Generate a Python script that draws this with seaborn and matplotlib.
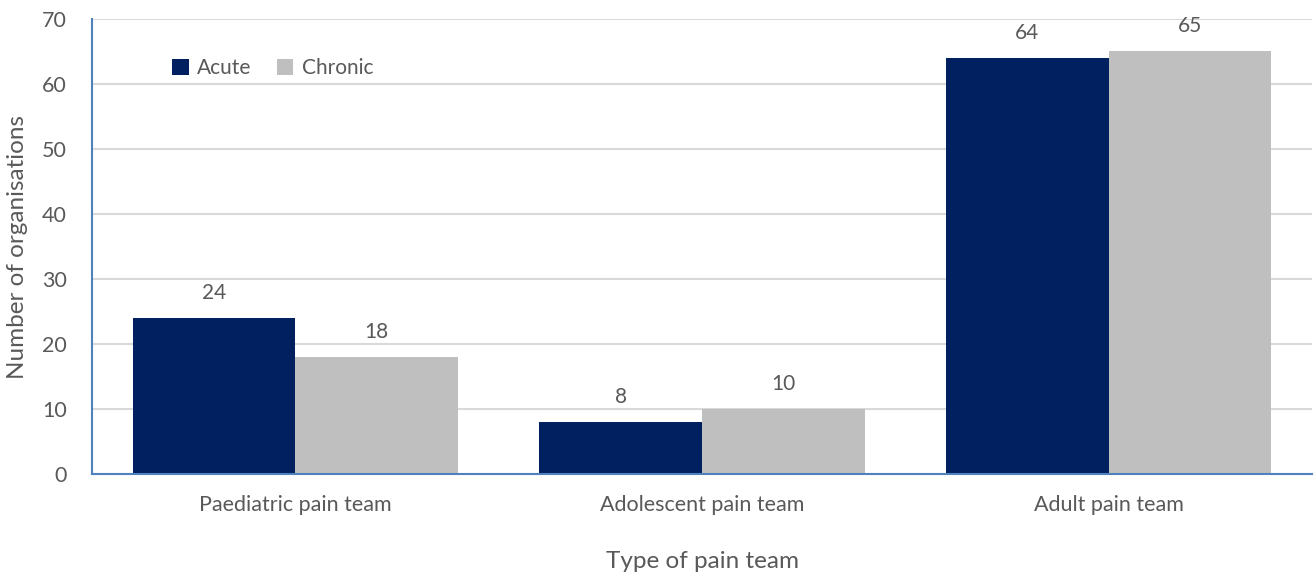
import pandas as pd
import numpy as np
import seaborn as sns
import matplotlib.pyplot as plt

sns.set_style('white')
plt.rcParams['font.family'] = ['Lato', 'DejaVu Sans']

# data
teams = ['Paediatric pain team', 'Adolescent pain team', 'Adult pain team']
acute = [24, 8, 64]
chronic = [18, 10, 65]

data = pd.DataFrame({
    'team': teams * 2,
    'type': ['Acute'] * 3 + ['Chronic'] * 3,
    'count': acute + chronic,
})

text_col = '#595959'
fig = plt.figure(figsize=(13.15, 5.72), dpi=100)
ax = fig.add_axes([0.070, 0.1713, 0.9277, 0.7955])

sns.barplot(data=data, x='team', y='count', hue='type',
            palette={'Acute': '#002060', 'Chronic': '#BFBFBF'},
            width=0.8, saturation=1, linewidth=0, ax=ax)

for c in ax.containers:
    ax.bar_label(c, padding=11, fontsize=15, color=text_col)

ax.set_ylim(0, 70)
ax.set_yticks(range(0, 71, 10))
ax.set_xlim(-0.5, 2.5)
ax.grid(axis='y', color='#D9D9D9', linewidth=1.5)
ax.set_axisbelow(True)
for s in ['top', 'right']:
    ax.spines[s].set_visible(False)
for s in ['left', 'bottom']:
    ax.spines[s].set_color('#4F81BD')
    ax.spines[s].set_linewidth(1.5)

ax.tick_params(axis='both', length=0, labelsize=15.5, colors=text_col, pad=18)
ax.tick_params(axis='x', pad=15)
ax.set_xlabel('Type of pain team', fontsize=17.5, color=text_col, labelpad=26)
ax.set_ylabel('Number of organisations', fontsize=17.5, color=text_col, labelpad=10)

ax.legend(loc='center', bbox_to_anchor=(0.148, 0.892), ncol=2, frameon=False,
          fontsize=15, labelcolor=text_col, handlelength=0.8, handleheight=0.8,
          handletextpad=0.4, columnspacing=1.2)

fig.savefig('out.png', dpi=100)
